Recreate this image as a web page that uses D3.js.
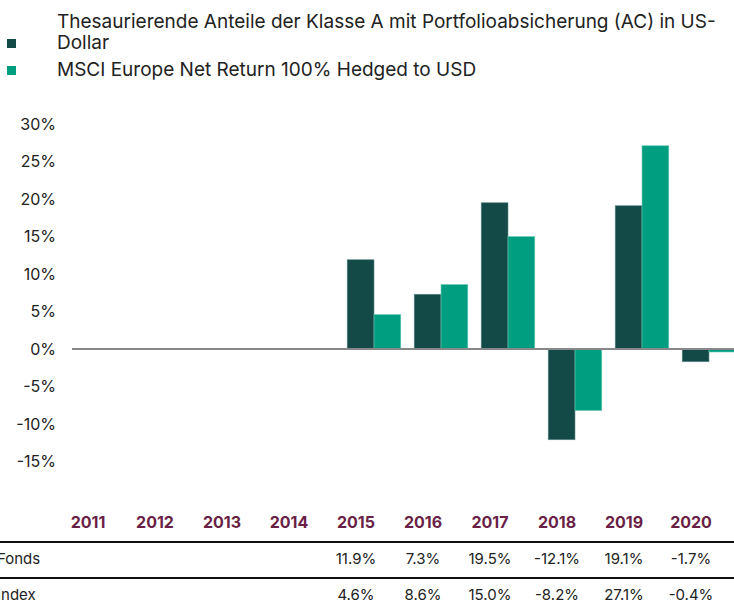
<!DOCTYPE html>
<html>
<head>
<meta charset="utf-8">
<script src="https://cdn.jsdelivr.net/npm/d3@7"></script>
<style>
  body { margin: 0; background: #fff; }
  svg { display: block; font-family: Inter, "Noto Sans", sans-serif; }
</style>
</head>
<body>
<svg id="chart" width="734" height="607"></svg>
<script>
// Data
const years = ['2011', '2012', '2013', '2014', '2015', '2016', '2017', '2018', '2019', '2020'];
const fondsValues = [null, null, null, null, 11.9, 7.3, 19.5, -12.1, 19.1, -1.7];
const indexValues = [null, null, null, null, 4.6, 8.6, 15.0, -8.2, 27.1, -0.4];
const yTicks = [30, 25, 20, 15, 10, 5, 0, -5, -10, -15];
const seriesNames = [
  ['Thesaurierende Anteile der Klasse A mit Portfolioabsicherung (AC) in US-', 'Dollar'],
  ['MSCI Europe Net Return 100% Hedged to USD']
];
const rowLabels = ['Fonds', 'Index'];

const colors = ['#134a48', '#009e80'];

const svg = d3.select('#chart');

// Scales
const y = d3.scaleLinear().domain([-15, 30]).range([461.5, 124]);
const x = d3.scaleBand().domain(years).range([72.5, 742.5]).paddingInner(0.2).paddingOuter(0.1);
const xSub = d3.scaleBand().domain([0, 1]).range([0, x.bandwidth()]);

// Legend
const legend = svg.append('g').attr('class', 'legend');
legend.append('rect').attr('x', 7).attr('y', 39).attr('width', 9).attr('height', 9).attr('fill', colors[0]);
legend.append('text').attr('x', 57).attr('y', 28)
  .style('font-size', '19px').style('fill', '#222')
  .selectAll('tspan').data(seriesNames[0]).enter().append('tspan')
  .attr('x', 57).attr('dy', (d, i) => i === 0 ? 0 : 21).text(d => d);
legend.append('rect').attr('x', 7).attr('y', 66).attr('width', 9).attr('height', 9).attr('fill', colors[1]);
legend.append('text').attr('x', 57).attr('y', 76)
  .style('font-size', '19px').style('fill', '#222')
  .text(seriesNames[1][0]);

// Y axis labels
svg.append('g').selectAll('text').data(yTicks).enter().append('text')
  .attr('x', 56).attr('y', d => y(d)).attr('dy', '0.35em')
  .attr('text-anchor', 'end')
  .style('font-size', '16px').style('fill', '#222')
  .text(d => d + '%');

// Bars
const groups = svg.append('g').selectAll('g').data(years).enter().append('g')
  .attr('transform', d => `translate(${x(d)},0)`);

[fondsValues, indexValues].forEach((vals, s) => {
  groups.filter((d, i) => vals[i] !== null)
    .append('rect')
    .attr('x', xSub(s))
    .attr('width', xSub.bandwidth())
    .attr('y', (d) => y(Math.max(0, vals[years.indexOf(d)])))
    .attr('height', (d) => Math.abs(y(vals[years.indexOf(d)]) - y(0)))
    .attr('fill', colors[s])
    .attr('stroke', s === 0 ? '#5f8c8a' : '#6fcab6')
    .attr('stroke-width', 0.6);
});

// Zero line
svg.append('line')
  .attr('x1', 72).attr('x2', 734)
  .attr('y1', y(0)).attr('y2', y(0))
  .attr('stroke', '#888').attr('stroke-width', 2);

// Table
const colX = d3.scalePoint().domain(years).range([88, 691]);
const table = svg.append('g').attr('class', 'table');

table.selectAll('.year').data(years).enter().append('text')
  .attr('class', 'year')
  .attr('x', d => colX(d)).attr('y', 528)
  .attr('text-anchor', 'middle')
  .style('font-size', '16px').style('font-weight', 'bold').style('fill', '#6a1f46')
  .text(d => d);

[542, 578].forEach(ly => {
  table.append('line').attr('x1', 0).attr('x2', 734).attr('y1', ly).attr('y2', ly)
    .attr('stroke', '#111').attr('stroke-width', 2);
});

[fondsValues, indexValues].forEach((vals, r) => {
  const rowY = r === 0 ? 564 : 600;
  table.append('text').attr('x', -3).attr('y', rowY)
    .style('font-size', '15px').style('fill', '#222').text(rowLabels[r]);
  table.selectAll('.val' + r).data(years).enter().append('text')
    .attr('class', 'val' + r)
    .attr('x', d => colX(d)).attr('y', rowY)
    .attr('text-anchor', 'middle')
    .style('font-size', '15px').style('fill', '#222')
    .text((d, i) => vals[i] === null ? '' : vals[i].toFixed(1) + '%');
});
</script>
</body>
</html>
